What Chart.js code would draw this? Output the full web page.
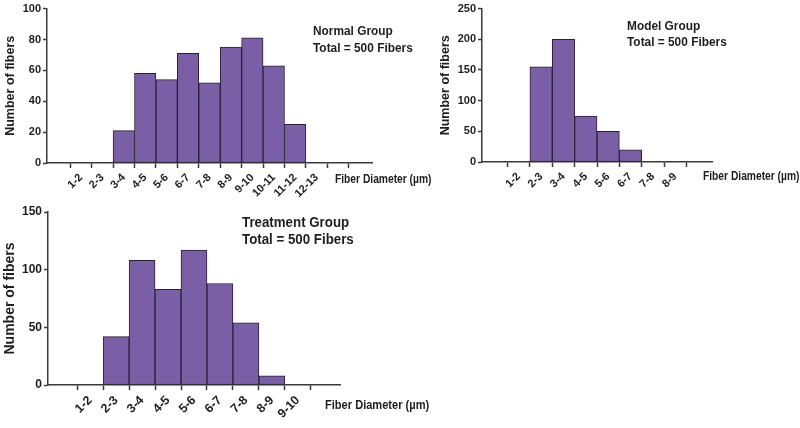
<!DOCTYPE html>
<html lang="en">
<head>
    <meta charset="UTF-8">
    <title>Fiber Diameter Distribution</title>
    <script src="https://cdn.jsdelivr.net/npm/chart.js"></script>
    <style>
        body { margin: 0; background: #fff; }
        .wrap { position: relative; width: 800px; height: 428px; overflow: hidden; }
        canvas { position: absolute; }
    </style>
</head>
<body>
    <div class="wrap">
        <canvas id="normalChart" width="445" height="200" style="left:0;top:0"></canvas>
        <canvas id="modelChart" width="380" height="200" style="left:420px;top:0"></canvas>
        <canvas id="treatChart" width="440" height="228" style="left:0;top:200px"></canvas>
    </div>

    <script>
        // bins (last normal tick has no label) and fiber counts per bin
        const normalBins = ["1-2", "2-3", "3-4", "4-5", "5-6", "6-7", "7-8", "8-9", "9-10", "10-11", "11-12", "12-13", ""];
        const normalCounts = [0, 0, 21, 58, 54, 71, 52, 75, 81, 63, 25, 0, 0];

        const modelBins = ["1-2", "2-3", "3-4", "4-5", "5-6", "6-7", "7-8", "8-9"];
        const modelCounts = [0, 155, 200, 75, 50, 20, 0, 0];

        const treatBins = ["1-2", "2-3", "3-4", "4-5", "5-6", "6-7", "7-8", "8-9", "9-10"];
        const treatCounts = [0, 42, 108, 83, 117, 88, 54, 8, 0];

        const AXIS = "#3a3a3a";
        const TEXT = "#1e1e1e";
        const FILL = "#7a5fa6";
        const EDGE = "#2a2036";
        const SANS = "'Liberation Sans', Arial, sans-serif";

        // text squeezed sideways, the source used a narrow face
        function narrowText(ctx, txt, x, y, squeeze) {
            ctx.save();
            ctx.translate(x, y);
            ctx.scale(squeeze, 1);
            ctx.fillText(txt, 0, 0);
            ctx.restore();
        }

        function makeChart(id, bins, counts, cfg) {
            const points = counts.map((v, i) => ({ x: i + 1, y: v }));
            const xMax = bins.length + 1;

            const notes = {
                id: "notes",
                afterDraw(chart) {
                    const ctx = chart.ctx;
                    ctx.save();
                    ctx.fillStyle = TEXT;
                    ctx.textBaseline = "alphabetic";
                    ctx.font = "bold " + cfg.noteSize + "px " + SANS;
                    narrowText(ctx, cfg.group, cfg.noteX, cfg.noteY, 0.95);
                    narrowText(ctx, "Total = 500 Fibers", cfg.noteX, cfg.noteY + cfg.noteGap, 0.95);
                    ctx.font = "bold " + cfg.xTitleSize + "px " + SANS;
                    narrowText(ctx, "Fiber Diameter (\u00b5m)", cfg.xTitleX, cfg.xTitleY, 0.82);
                    ctx.restore();
                }
            };

            return new Chart(document.getElementById(id), {
                type: "bar",
                data: {
                    datasets: [{
                        data: points,
                        backgroundColor: FILL,
                        borderColor: EDGE,
                        borderWidth: 1,
                        borderSkipped: false,
                        barPercentage: 1,
                        categoryPercentage: 1
                    }]
                },
                options: {
                    responsive: false,
                    animation: false,
                    layout: { padding: { left: 0, top: cfg.top, right: cfg.right, bottom: 0 } },
                    plugins: { legend: { display: false }, tooltip: { enabled: false } },
                    scales: {
                        x: {
                            type: "linear",
                            min: 0,
                            max: xMax,
                            afterFit: s => { s.height = cfg.xh; },
                            afterBuildTicks: s => {
                                s.ticks = bins.map((b, i) => ({ value: i + 1 }));
                            },
                            border: { color: AXIS, width: 1.5 },
                            grid: { drawOnChartArea: false, tickLength: 5, tickColor: AXIS, tickWidth: 1.5 },
                            ticks: {
                                autoSkip: false,
                                minRotation: 45,
                                maxRotation: 45,
                                padding: 3,
                                color: TEXT,
                                font: { family: SANS, size: cfg.xTickSize, weight: "bold" },
                                callback: v => bins[v - 1] ?? ""
                            }
                        },
                        y: {
                            min: 0,
                            max: cfg.yMax,
                            afterFit: s => { s.width = cfg.yw; },
                            border: { color: AXIS, width: 1.5 },
                            grid: { drawOnChartArea: false, tickLength: 4, tickColor: AXIS, tickWidth: 1.5 },
                            ticks: {
                                stepSize: cfg.yStep,
                                padding: 2,
                                color: TEXT,
                                font: { family: SANS, size: cfg.yTickSize, weight: "bold" }
                            },
                            title: {
                                display: true,
                                text: "Number of fibers",
                                color: TEXT,
                                padding: { top: cfg.titlePad, bottom: 0 },
                                font: { family: SANS, size: cfg.yTitleSize, weight: "bold" }
                            }
                        }
                    }
                },
                plugins: [notes]
            });
        }

        makeChart("normalChart", normalBins, normalCounts, {
            yMax: 100, yStep: 20, yw: 47, xh: 37, top: 8, right: 73,
            xTickSize: 11, yTickSize: 11, yTitleSize: 12.5, titlePad: 3,
            group: "Normal Group", noteX: 313, noteY: 35, noteGap: 17, noteSize: 12.5,
            xTitleX: 335, xTitleY: 183, xTitleSize: 12.5
        });

        makeChart("modelChart", modelBins, modelCounts, {
            yMax: 250, yStep: 50, yw: 62, xh: 38, top: 7, right: 88,
            xTickSize: 11, yTickSize: 11, yTitleSize: 12.5, titlePad: 18,
            group: "Model Group", noteX: 207, noteY: 30, noteGap: 16, noteSize: 12.5,
            xTitleX: 283, xTitleY: 180, xTitleSize: 12.5
        });

        makeChart("treatChart", treatBins, treatCounts, {
            yMax: 150, yStep: 50, yw: 48, xh: 43, top: 12, right: 100,
            xTickSize: 12.5, yTickSize: 12, yTitleSize: 14, titlePad: 2,
            group: "Treatment Group", noteX: 242, noteY: 27, noteGap: 17, noteSize: 14,
            xTitleX: 325, xTitleY: 209, xTitleSize: 13.5
        });
    </script>
</body>
</html>
